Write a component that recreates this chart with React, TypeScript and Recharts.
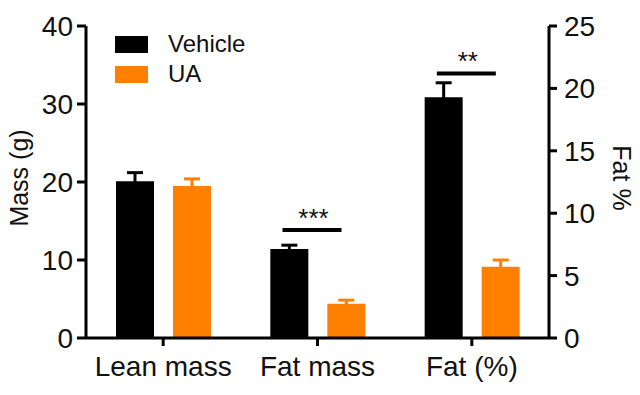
import React from "react";
import { BarChart, Bar, XAxis, YAxis, ErrorBar, Legend, ReferenceDot } from "recharts";

const categories = ["Lean mass", "Fat mass", "Fat (%)"];
const vehicleMean = [20.1, 11.4, 19.3];
const vehicleSem = [1.1, 0.5, 1.15];
const uaMean = [19.5, 4.4, 5.7];
const uaSem = [0.9, 0.45, 0.55];
// the last group is read on the right-hand (Fat %) axis
const onRightAxis = [false, false, true];
const massTicks = [0, 10, 20, 30, 40];
const pctTicks = [0, 5, 10, 15, 20, 25];
const legendNames = ["Vehicle", "UA"];
const sigMarks = [
  { name: "Fat mass", y: 13.85, stars: "***", axis: "left" },
  { name: "Fat (%)", y: 21.2, stars: "**", axis: "right" },
];

const data = categories.map((name, i) => {
  const r = onRightAxis[i];
  return {
    name,
    vehicle: r ? null : vehicleMean[i],
    vehicleErr: r ? null : vehicleSem[i],
    ua: r ? null : uaMean[i],
    uaErr: r ? null : uaSem[i],
    vehiclePct: r ? vehicleMean[i] : null,
    vehiclePctErr: r ? vehicleSem[i] : null,
    uaPct: r ? uaMean[i] : null,
    uaPctErr: r ? uaSem[i] : null,
  };
});

const BLACK = "#000000";
const ORANGE = "#FF8000";
const FONT = "'Liberation Sans', Arial, sans-serif";

const axisStroke = { stroke: "#000", strokeWidth: 3 };
const tickStyle = { fill: "#111", fontSize: 28, fontFamily: FONT };

const renderLegend = (props: any) => {
  const { payload } = props;
  const items = legendNames
    .map((n) => payload.find((p: any) => p.value === n))
    .filter(Boolean);
  return (
    <div>
      {items.map((entry: any) => (
        <div key={entry.value} style={{ display: "flex", alignItems: "center", height: 30 }}>
          <span style={{ display: "inline-block", width: 33, height: 17, background: entry.color, marginRight: 20 }} />
          <span style={{ fontSize: 24, color: "#111", fontFamily: FONT }}>{entry.value}</span>
        </div>
      ))}
    </div>
  );
};

const sigShape = (stars: string) => (props: any) => {
  const { cx, cy } = props;
  return (
    <g>
      <line x1={cx - 35} x2={cx + 24} y1={cy} y2={cy} stroke="#000" strokeWidth={4} />
      <text x={cx - 4} y={cy - 3} textAnchor="middle" fontSize={26} fontFamily={FONT} fill="#111">
        {stars}
      </text>
    </g>
  );
};

export default function App() {
  return (
    <div style={{ position: "absolute", left: 0, top: 0, fontFamily: FONT }}>
      <BarChart
        width={640}
        height={395}
        data={data}
        margin={{ top: 26, right: 31, bottom: 7, left: 26 }}
        barSize={38}
        barGap={19}
      >
        <XAxis
          dataKey="name"
          axisLine={axisStroke}
          tickLine={axisStroke}
          tickSize={8}
          tickMargin={10}
          height={50}
          tick={tickStyle}
          interval={0}
        />
        <YAxis
          yAxisId="left"
          domain={[0, 40]}
          ticks={massTicks}
          width={60}
          axisLine={axisStroke}
          tickLine={axisStroke}
          tickSize={9}
          tickMargin={4}
          tick={tickStyle}
          label={{ value: "Mass (g)", angle: -90, position: "center", dx: -37, dy: -4, fill: "#111", fontSize: 25, fontFamily: FONT }}
        />
        <YAxis
          yAxisId="right"
          orientation="right"
          domain={[0, 25]}
          ticks={pctTicks}
          width={60}
          axisLine={axisStroke}
          tickLine={axisStroke}
          tickSize={8}
          tickMargin={7}
          tick={tickStyle}
          label={{ value: "Fat %", angle: 90, position: "center", dx: 43, dy: -4, fill: "#111", fontSize: 25, fontFamily: FONT }}
        />
        <Legend
          layout="vertical"
          align="center"
          verticalAlign="middle"
          content={renderLegend}
          wrapperStyle={{ left: 115, top: 29, width: "auto", height: "auto" }}
        />
        <Bar dataKey="vehicle" name="Vehicle" yAxisId="left" stackId="v" fill={BLACK} isAnimationActive={false}>
          <ErrorBar dataKey="vehicleErr" width={8} strokeWidth={3} stroke={BLACK} direction="y" />
        </Bar>
        <Bar dataKey="ua" name="UA" yAxisId="left" stackId="u" fill={ORANGE} isAnimationActive={false}>
          <ErrorBar dataKey="uaErr" width={8} strokeWidth={3} stroke={ORANGE} direction="y" />
        </Bar>
        <Bar dataKey="vehiclePct" yAxisId="right" stackId="v" fill={BLACK} legendType="none" isAnimationActive={false}>
          <ErrorBar dataKey="vehiclePctErr" width={8} strokeWidth={3} stroke={BLACK} direction="y" />
        </Bar>
        <Bar dataKey="uaPct" yAxisId="right" stackId="u" fill={ORANGE} legendType="none" isAnimationActive={false}>
          <ErrorBar dataKey="uaPctErr" width={8} strokeWidth={3} stroke={ORANGE} direction="y" />
        </Bar>
        {sigMarks.map((m) => (
          <ReferenceDot
            key={m.name}
            x={m.name}
            y={m.y}
            yAxisId={m.axis}
            shape={sigShape(m.stars)}
            ifOverflow="visible"
          />
        ))}
      </BarChart>
    </div>
  );
}
